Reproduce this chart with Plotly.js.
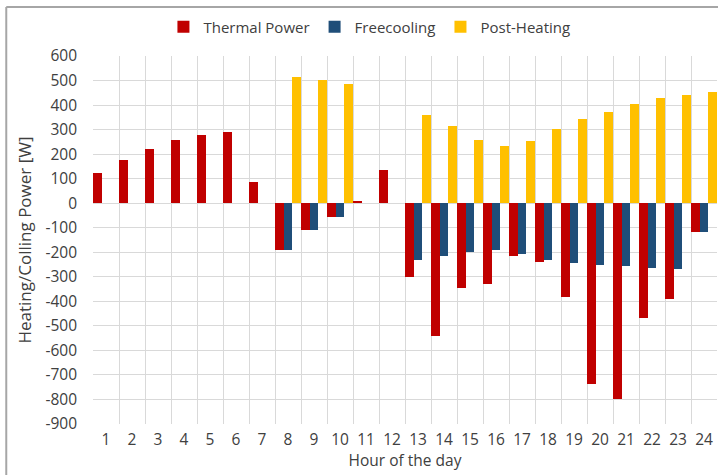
<!DOCTYPE html>
<html>
<head>
<meta charset="utf-8">
<script src="https://cdn.plot.ly/plotly-3.0.1.min.js"></script>
<style>
  html, body { margin: 0; padding: 0; background: #fff; }
  #plot { width: 718px; height: 475px; }
</style>
</head>
<body>
<div id="plot"></div>
<script>
// hours of the day (categories)
const hours = ['1','2','3','4','5','6','7','8','9','10','11','12',
               '13','14','15','16','17','18','19','20','21','22','23','24'];

// values [W]
const thermalPower = [125, 176, 220, 258, 279, 290, 88, -190, -111, -56, 8, 137,
                      -300, -541, -346, -331, -214, -238, -382, -737, -798, -467, -392, -119];
const freecooling  = [0, 0, 0, 0, 0, 0, 0, -190, -111, -56, 0, 0,
                      -230, -214, -199, -192, -206, -230, -244, -253, -257, -264, -268, -119];
const postHeating  = [0, 0, 0, 0, 0, 0, 0, 513, 503, 486, 0, 0,
                      359, 313, 258, 234, 255, 302, 344, 370, 405, 428, 441, 452];

const yTicks = [600, 500, 400, 300, 200, 100, 0, -100, -200, -300, -400, -500, -600, -700, -800, -900];

const font = '"Open Sans", Lato, sans-serif';
const textColor = '#404040';

function barTrace(name, values, color) {
    return {
        x: hours,
        y: values,
        type: 'bar',
        name: name,
        marker: { color: color, line: { width: 0 } }
    };
}

const traces = [
    barTrace('Thermal Power', thermalPower, '#C00000'),
    barTrace('Freecooling', freecooling, '#1F4E79'),
    barTrace('Post-Heating', postHeating, '#FFC000')
];

const layout = {
    width: 718,
    height: 475,
    margin: { l: 93, r: 1, t: 56, b: 51 },
    paper_bgcolor: '#fff',
    plot_bgcolor: '#fff',
    font: { family: font, size: 15, color: textColor },
    barmode: 'group',
    bargap: 0,
    bargroupgap: 0,
    showlegend: true,
    legend: {
        orientation: 'h',
        x: 0.443, xanchor: 'center',
        y: 1.079, yanchor: 'middle',
        font: { family: font, size: 15, color: textColor },
        itemwidth: 30,
        traceorder: 'normal'
    },
    xaxis: {
        type: 'category',
        range: [-0.5, 23.5],
        tickson: 'boundaries',
        showgrid: true,
        gridcolor: '#d9d9d9',
        ticks: '',
        showline: false,
        zeroline: false,
        ticklabelstandoff: 4,
        tickfont: { family: font, size: 15.5, color: textColor },
        title: { text: 'Hour of the day', standoff: 5, font: { family: font, size: 15.5, color: textColor } }
    },
    yaxis: {
        range: [-900, 600],
        tickvals: yTicks,
        ticktext: yTicks.map(v => String(v)),
        showgrid: true,
        gridcolor: '#d9d9d9',
        zeroline: false,
        showline: false,
        ticks: '',
        ticklabelstandoff: 15,
        tickfont: { family: font, size: 15.5, color: textColor },
        title: { text: 'Heating/Colling Power [W]', standoff: 9, font: { family: font, size: 17, color: textColor } }
    },
    shapes: [
        // outer chart frame (left and top edges visible in the reference)
        { type: 'line', xref: 'paper', yref: 'paper', x0: -0.139, x1: -0.139, y0: 1.133, y1: -0.2,
          line: { color: '#a6a6a6', width: 2 } },
        { type: 'line', xref: 'paper', yref: 'paper', x0: -0.139, x1: 1.01, y0: 1.133, y1: 1.133,
          line: { color: '#a6a6a6', width: 2 } }
    ]
};

Plotly.newPlot('plot', traces, layout, { staticPlot: true, displayModeBar: false });
</script>
</body>
</html>
